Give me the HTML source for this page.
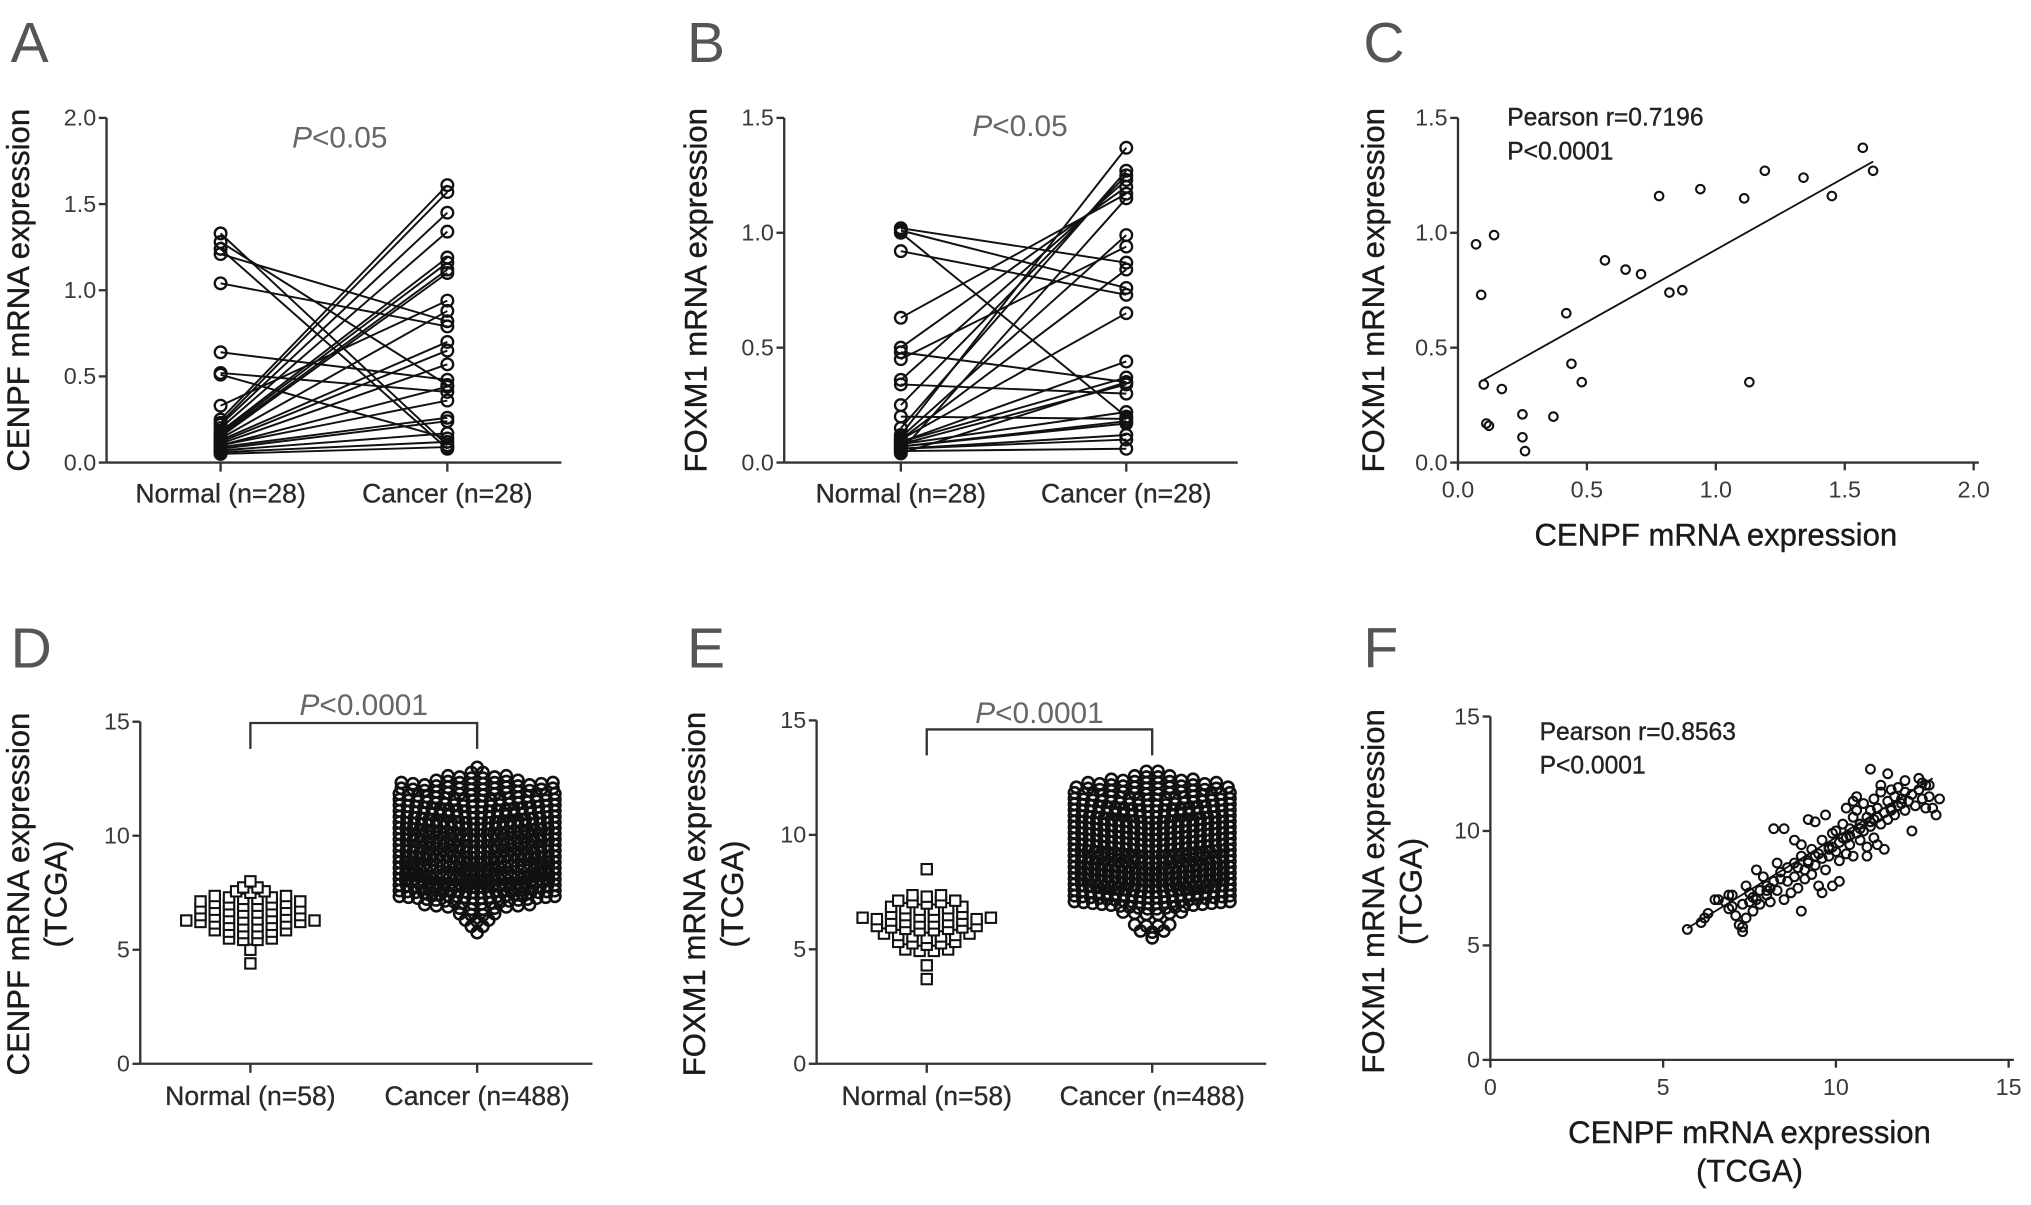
<!DOCTYPE html>
<html><head><meta charset="utf-8">
<style>
html,body{margin:0;padding:0;background:#fff;}
svg{display:block;font-family:"Liberation Sans",Arial,sans-serif;}
</style></head>
<body>
<svg id="fig" width="2031" height="1205" viewBox="0 0 1567 930" xmlns="http://www.w3.org/2000/svg"></svg>
<script>
// ---------- DATA ----------
const aNormal=[1.33,1.28,1.24,1.21,1.04,0.64,0.52,0.51,0.33,0.25,0.23,0.22,0.20,0.18,0.17,0.16,0.15,0.14,0.13,0.12,0.11,0.10,0.10,0.09,0.08,0.07,0.06,0.05];
const aCancer=[0.10,0.45,0.08,0.82,0.79,0.48,0.41,0.14,0.94,1.61,1.57,1.45,1.34,1.19,1.16,1.12,1.10,0.88,0.70,0.65,0.57,0.44,0.36,0.26,0.24,0.17,0.12,0.09];
const bNormal=[1.02,1.01,1.00,0.92,0.63,0.50,0.48,0.45,0.36,0.34,0.25,0.20,0.15,0.12,0.11,0.10,0.10,0.09,0.09,0.08,0.08,0.07,0.07,0.06,0.06,0.05,0.05,0.04];
const bCancer=[0.87,0.76,0.20,0.73,1.17,1.20,0.35,0.94,1.23,0.30,1.25,0.19,1.27,1.37,0.99,0.84,0.65,0.44,0.37,0.34,0.22,0.18,0.17,0.12,0.10,0.06,1.15,0.35];
const cX=[0.07,0.09,0.14,0.10,0.11,0.12,0.17,0.25,0.25,0.26,0.37,0.42,0.44,0.48,0.57,0.65,0.71,0.78,0.82,0.87,0.94,1.11,1.13,1.19,1.34,1.45,1.57,1.61];
const cY=[0.95,0.73,0.99,0.34,0.17,0.16,0.32,0.21,0.11,0.05,0.20,0.65,0.43,0.35,0.88,0.84,0.82,1.16,0.74,0.75,1.19,1.15,0.35,1.27,1.24,1.16,1.37,1.27];
const cFit=[[0.10,0.36],[1.61,1.31]];
const dNormalBins=[4.4,5.0,5.4,5.7,6.0,6.3,6.6,6.9,7.2,7.5,7.7,8.0];
const dNormalCounts=[1,1,4,6,10,8,8,8,6,3,2,1];
const dCancerBins=[5.75,6.0,6.25,6.5,6.75,7.0,7.25,7.5,7.75,8.0,8.25,8.5,8.75,9.0,9.25,9.5,9.75,10.0,10.25,10.5,10.75,11.0,11.25,11.5,11.75,12.0,12.25,12.5,12.75,13.0];
const dCancerCounts=[1,2,3,4,10,18,20,22,26,26,24,26,24,24,22,24,22,24,22,22,20,20,18,18,14,14,8,6,2,1];
const eNormalBins=[3.7,4.3,4.9,5.2,5.5,5.8,6.1,6.4,6.7,7.0,7.3,8.5];
const eNormalCounts=[1,1,4,5,7,8,10,6,6,5,3,1];
const eCancerBins=[5.5,5.75,6.0,6.5,6.75,7.0,7.25,7.5,7.75,8.0,8.25,8.5,8.75,9.0,9.25,9.5,9.75,10.0,10.25,10.5,10.75,11.0,11.25,11.5,11.75,12.0,12.25,12.5,12.75];
const eCancerCounts=[1,3,4,6,18,20,20,22,24,24,24,24,22,24,22,22,22,22,22,22,20,20,18,18,14,12,8,4,2];
const fX=[5.7,6.1,6.2,6.3,6.5,6.6,6.8,6.9,7.0,7.0,7.1,7.2,7.3,7.3,7.3,7.4,7.5,7.5,7.6,7.7,7.8,7.8,7.9,8.0,8.0,8.1,8.2,8.2,8.3,8.4,8.5,8.5,8.6,8.6,8.7,8.8,8.8,8.9,9.0,9.0,9.1,9.1,9.2,9.3,9.3,9.4,9.4,9.5,9.5,9.6,9.6,9.7,9.7,9.8,9.8,9.9,9.9,10.0,10.0,10.1,10.1,10.2,10.2,10.3,10.3,10.4,10.4,10.5,10.5,10.6,10.6,10.7,10.7,10.8,10.8,10.9,10.9,11.0,11.0,11.1,11.1,11.2,11.2,11.3,11.3,11.4,11.4,11.5,11.5,11.6,11.6,11.7,11.7,11.8,11.8,11.9,12.0,12.0,12.1,12.2,12.2,12.3,12.4,12.5,12.5,12.6,12.6,12.7,12.8,12.9,13.0,11.5,11.0,12.0,11.3,10.6,9.2,8.8,7.7,7.4,6.9,10.1,9.6,10.9,11.2,8.3,9.0,10.5,12.4,12.7,8.1,8.4,8.9,9.4,9.9,10.3,10.7,11.1,11.6,7.6,8.0,9.2,9.8,10.4,11.0,11.9];
const fY=[5.7,6.0,6.2,6.4,7.0,7.0,6.9,6.6,6.7,7.2,6.3,5.9,5.6,5.8,6.8,7.6,7.3,6.9,6.5,7.0,7.4,6.8,8.0,7.2,7.6,6.9,7.8,10.1,7.4,8.2,7.0,10.1,7.8,8.4,7.3,8.0,8.6,7.5,6.5,8.9,8.3,7.9,8.7,9.2,8.1,8.5,10.4,9.0,7.6,8.8,9.6,8.3,10.7,9.3,8.9,9.9,7.6,9.1,10.0,9.5,8.7,10.3,9.7,9.0,11.0,10.1,9.4,10.6,8.9,9.9,10.9,10.3,9.6,11.2,10.0,10.6,9.3,10.9,10.2,11.4,9.7,10.6,11.0,10.3,11.7,10.8,9.2,11.3,10.5,11.8,11.0,10.7,11.5,11.1,11.9,11.4,10.9,11.7,11.3,11.6,10.0,11.1,11.8,12.1,11.4,11.0,12.0,11.5,11.0,10.7,11.4,12.5,12.7,12.2,12.0,11.5,10.5,9.6,8.3,6.2,7.2,7.8,7.3,8.9,9.4,8.6,9.4,11.3,12.3,12.0,7.5,7.9,8.4,8.9,9.3,9.7,10.1,10.5,10.9,7.1,7.4,8.6,9.2,9.8,10.4,11.2];
const fFit=[[5.7,5.75],[12.8,12.3]];

// ---------- HELPERS ----------
const NS="http://www.w3.org/2000/svg";
const svg=document.getElementById('fig');
function el(tag,attrs,parent){const e=document.createElementNS(NS,tag);for(const k in attrs)e.setAttribute(k,attrs[k]);(parent||svg).appendChild(e);return e;}
function txt(s,attrs,parent){const t=el('text',attrs,parent);t.textContent=s;return t;}
const AX='#333';

function panelLetter(letter,x,y){
  const t=txt(letter,{x:x,y:y,'font-size':44,fill:'#555'});
  
  
}
function yTitle(lines,x,cy,g){
  lines.forEach((s,i)=>{
    const t=txt(s,{x:0,y:0,'font-size':24,fill:'#1a1a1a','text-anchor':'middle',stroke:'#1a1a1a','stroke-width':0.3,transform:`translate(${x+i*29},${cy}) rotate(-90)`},g);
    
    
  });
}
function yAxis(g,ax,y0,y1,vmax,ticks,fmt){
  const sy=v=>y0-(y0-y1)*v/vmax;
  const l=el('line',{x1:ax,y1:y1,x2:ax,y2:y0,stroke:AX,'stroke-width':1.8},g);
  
  
  ticks.forEach(v=>{
    el('line',{x1:ax-6,x2:ax,y1:sy(v),y2:sy(v),stroke:AX,'stroke-width':1.8},g);
    const t=txt(fmt(v),{x:ax-8,y:sy(v)+6,'font-size':18,fill:'#3a3a3a','text-anchor':'end'},g);
    
    
  });
  return sy;
}
function xAxisCat(g,ax,xEnd,y0,groups,labels,ly){
  const l=el('line',{x1:ax,y1:y0,x2:xEnd,y2:y0,stroke:AX,'stroke-width':1.8},g);
  
  
  groups.forEach((gx,i)=>{
    el('line',{x1:gx,x2:gx,y1:y0,y2:y0+7,stroke:AX,'stroke-width':1.8},g);
    const t=txt(labels[i],{x:gx,y:ly,'font-size':20.5,fill:'#2a2a2a','text-anchor':'middle',stroke:'#2a2a2a','stroke-width':0.25},g);
    
    
  });
}
function pText(g,x,y,rest,name){
  const t=el('text',{x:x,y:y,'font-size':23,fill:'#666','text-anchor':'middle'},g);
  const a=el('tspan',{'font-style':'italic'},t);a.textContent='P';
  const b=el('tspan',{},t);b.textContent=rest;
  
  
}

// ---------- PAIRED PANELS ----------
function paired(letter,lx,ax,xEnd,y0,y1,vmax,ticks,nx,cx,normal,cancer,title,pX,pY){
  const g=el('g',{});
  
  
  panelLetter(letter,lx,48);
  yTitle([title],ax-60,224,g);
  const sy=yAxis(g,ax,y0,y1,vmax,ticks,v=>v.toFixed(1));
  xAxisCat(g,ax,xEnd,y0,[nx,cx],['Normal (n=28)','Cancer (n=28)'],388);
  pText(g,pX,pY,'<0.05','p-value-label');
  normal.forEach((v,i)=>{
    const l=el('line',{x1:nx,y1:sy(v),x2:cx,y2:sy(cancer[i]),stroke:'#111','stroke-width':1.5},g);
    
    
  });
  normal.forEach((v,i)=>{
    const a=el('circle',{cx:nx,cy:sy(v),r:4.5,fill:'none',stroke:'#111','stroke-width':1.8},g);
    
    
    const b=el('circle',{cx:cx,cy:sy(cancer[i]),r:4.5,fill:'none',stroke:'#111','stroke-width':1.8},g);
    
    
  });
}
paired('A',8,82,433,357,91,2.0,[0,0.5,1,1.5,2],170,345,aNormal,aCancer,'CENPF mRNA expression',262,114);
paired('B',530,605,955,357,91,1.5,[0,0.5,1,1.5],695,869,bNormal,bCancer,'FOXM1 mRNA expression',787,105);

// ---------- SCATTER PANELS ----------
function scatter(letter,lx,ly,ax,x0px,x1px,xmax,xt,xfmt,y0,y1,ymax,yt,yfmt,xs,ys,fit,r,titleY,titleX,pearson,tx,ty,yTitleX,yTitleCy){
  const g=el('g',{});
  
  
  panelLetter(letter,lx,ly);
  yTitle(titleY,yTitleX,yTitleCy,g);
  const sy=yAxis(g,ax,y0,y1,ymax,yt,yfmt);
  const sx=v=>x0px+(x1px-x0px)*v/xmax;
  const l=el('line',{x1:ax,y1:y0,x2:x1px+4,y2:y0,stroke:AX,'stroke-width':1.8},g);
  
  
  xt.forEach(v=>{
    el('line',{x1:sx(v),x2:sx(v),y1:y0,y2:y0+6,stroke:AX,'stroke-width':1.8},g);
    const t=txt(xfmt(v),{x:sx(v),y:y0+27,'font-size':18,fill:'#3a3a3a','text-anchor':'middle'},g);
    
    
  });
  titleX.forEach((s,i)=>{
    const t=txt(s,{x:(x0px+x1px)/2,y:y0+64+i*30,'font-size':24,fill:'#1a1a1a','text-anchor':'middle',stroke:'#1a1a1a','stroke-width':0.3},g);
    
    
  });
  const f=el('line',{x1:sx(fit[0][0]),y1:sy(fit[0][1]),x2:sx(fit[1][0]),y2:sy(fit[1][1]),stroke:'#111','stroke-width':1.4},g);
  
  
  xs.forEach((v,i)=>{
    const c=el('circle',{cx:sx(v),cy:sy(ys[i]),r:r,fill:'none',stroke:'#111','stroke-width':1.6},g);
    
    
  });
  pearson.forEach((s,i)=>{
    const t=txt(s,{x:tx,y:ty+i*26,'font-size':19,fill:'#222',stroke:'#222','stroke-width':0.3},g);
    
    
  });
}
scatter('C',1052,48,1125,1125,1523,2.0,[0,0.5,1,1.5,2],v=>v.toFixed(1),357,91,1.5,[0,0.5,1,1.5],v=>v.toFixed(1),
  cX,cY,cFit,3.3,['FOXM1 mRNA expression'],['CENPF mRNA expression'],['Pearson r=0.7196','P<0.0001'],1163,97,1068,224);
scatter('F',1052,515,1150,1150,1550,15,[0,5,10,15],v=>String(v),818,553,15,[0,5,10,15],v=>String(v),
  fX,fY,fFit,3.4,['FOXM1 mRNA expression','(TCGA)'],['CENPF mRNA expression','(TCGA)'],['Pearson r=0.8563','P<0.0001'],1188,571,1068,688);

// ---------- BEESWARM PANELS ----------
function swarm(letter,lx,ax,xEnd,y0,y1,nx,cx,nb,nc,cb,cc,title,brTop,pY,titleCy){
  const g=el('g',{});
  
  
  panelLetter(letter,lx,515);
  yTitle(title,ax-86,titleCy,g);
  const sy=yAxis(g,ax,y0,y1,15,[0,5,10,15],v=>String(v));
  xAxisCat(g,ax,xEnd,y0,[nx,cx],['Normal (n=58)','Cancer (n=488)'],853);
  const br=el('path',{d:`M${nx},${brTop+20}V${brTop}H${cx}V${brTop+20}`,fill:'none',stroke:'#333','stroke-width':1.8},g);
  
  
  pText(g,(nx+cx)/2,pY,'<0.0001','p-value-label');
  function drawGroup(bins,counts,gx,maxHalf,square,name,cap){
    bins.forEach((v,bi)=>{
      const n=counts[bi];
      const step=Math.min(cap,(2*maxHalf)/Math.max(1,n-1));
      for(let k=0;k<n;k++){
        const off=(k-(n-1)/2)*step;
        const y=sy(v)-Math.abs(off)*0.1;
        let m;
        if(square){m=el('rect',{x:gx+off-4,y:y-4,width:8,height:8,fill:'#fff',stroke:'#111','stroke-width':1.6},g);}
        else{m=el('circle',{cx:gx+off,cy:y,r:4.3,fill:'none',stroke:'#111','stroke-width':2},g);}
        
        
      }
    });
  }
  drawGroup(nb,nc,nx,55,true,'normal-point',11);
  drawGroup(cb,cc,cx,60,false,'cancer-point',9);
}
swarm('D',8,108,457,821,557,193,368,dNormalBins,dNormalCounts,dCancerBins,dCancerCounts,['CENPF mRNA expression','(TCGA)'],558,552,690);
swarm('E',530,630,977,821,556,715,889,eNormalBins,eNormalCounts,eCancerBins,eCancerCounts,['FOXM1 mRNA expression','(TCGA)'],563,558,690);
</script>
</body></html>
